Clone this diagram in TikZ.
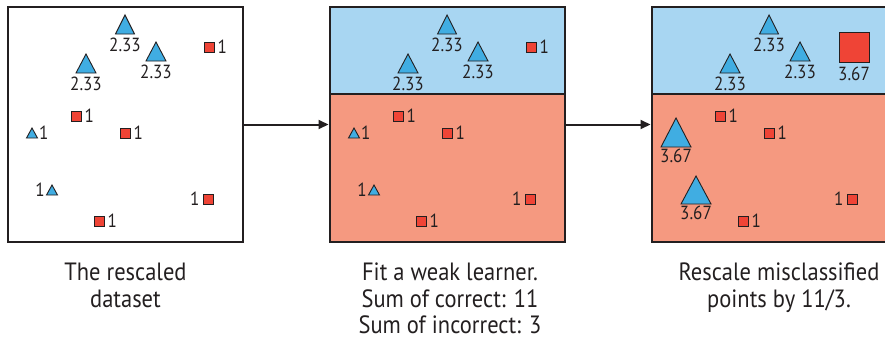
\documentclass[tikz,border=0pt]{standalone}
\usepackage{fontspec}
\setmainfont{PT Sans}
\newfontfamily\capfont[FakeStretch=0.9]{PT Sans}
\usetikzlibrary{arrows.meta}
\definecolor{triblue}{RGB}{64,173,226}
\definecolor{sqred}{RGB}{239,68,54}
\definecolor{bgblue}{RGB}{168,214,242}
\definecolor{bgsalmon}{RGB}{245,153,128}
\definecolor{ink}{RGB}{35,31,32}
\tikzset{
  panel/.style={draw=ink, line width=2pt, minimum width=235pt, minimum height=235pt, inner sep=0pt},
  region/.style={draw=ink, line width=2pt, inner sep=0pt, minimum width=235pt},
  tri/.style={draw=ink, fill=triblue, line width=0.9pt, line join=miter},
  sq/.style={draw=ink, fill=sqred, line width=0.9pt, minimum size=10pt, inner sep=0pt},
  bigsq/.style={sq, minimum size=30pt},
  num/.style={font=\capfont\fontsize{19}{19}\selectfont, inner sep=0pt, text=ink},
  captext/.style={font=\capfont\fontsize{25}{26.5}\selectfont, align=center, anchor=north, inner sep=0pt, text=ink},
  flow/.style={draw=ink, line width=2pt, -{Triangle[length=10pt,width=9pt]}}
}
\newcommand\mytri[5]{% name, cx, apex y, width, height
  \draw[tri] (#2,#3) -- ++(#4/2,#5) -- ++(-#4,0) -- cycle;
  \coordinate (#1) at (#2,#3+#5);}
\begin{document}
\begin{tikzpicture}[x=1pt,y=-1pt]
\useasboundingbox (0,0) rectangle (885,343);
% panels
\node[panel, fill=white] (p1) at (125.5,124.5) {};
\node[panel, fill=bgsalmon] (p2) at (447,124.5) {};
\node[region, fill=bgblue, minimum height=87pt] (p2top) at (447,50.5) {};
\node[panel, fill=bgsalmon] (p3) at (769,124.5) {};
\node[region, fill=bgblue, minimum height=87pt] (p3top) at (769,50.5) {};
\draw[flow] (p1.east) -- (p2.west);
\draw[flow] (p2.east) -- (p3.west);
% panels 1 and 2: identical point sets
\foreach \o/\n in {0/a,322/b}{
  \mytri{\n t1}{125+\o}{15}{19}{19}
  \node[num, anchor=north] at ([yshift=-4pt]\n t1) {2.33};
  \mytri{\n t2}{156+\o}{42}{20}{19}
  \node[num, anchor=north] at ([yshift=-4pt]\n t2) {2.33};
  \mytri{\n t3}{86+\o}{54}{20}{19}
  \node[num, anchor=north] at ([yshift=-4pt]\n t3) {2.33};
  \mytri{\n t4}{32+\o}{128}{11}{10}
  \node[num, anchor=west] at (39+\o,133) {1};
  \mytri{\n t5}{52+\o}{185}{11}{10}
  \node[num, anchor=east] at (45+\o,190) {1};
  \node[sq] (\n s1) at (209+\o,47) {};
  \node[num, anchor=west] at ([xshift=3pt]\n s1.east) {1};
  \node[sq] (\n s2) at (76+\o,116) {};
  \node[num, anchor=west] at ([xshift=3pt]\n s2.east) {1};
  \node[sq] (\n s3) at (125+\o,133) {};
  \node[num, anchor=west] at ([xshift=3pt]\n s3.east) {1};
  \node[sq] (\n s4) at (208+\o,199) {};
  \node[num, anchor=east] at ([xshift=-3pt]\n s4.west) {1};
  \node[sq] (\n s5) at (99+\o,221) {};
  \node[num, anchor=west] at ([xshift=3pt]\n s5.east) {1};
}
% panel 3
\mytri{ct1}{769}{15}{19}{19}
\node[num, anchor=north] at ([yshift=-4pt]ct1) {2.33};
\mytri{ct2}{800}{42}{20}{19}
\node[num, anchor=north] at ([yshift=-4pt]ct2) {2.33};
\mytri{ct3}{730}{54}{20}{19}
\node[num, anchor=north] at ([yshift=-4pt]ct3) {2.33};
\mytri{ct4}{676}{118}{30}{29}
\node[num, anchor=north] at ([yshift=-1.5pt]ct4) {3.67};
\mytri{ct5}{696}{176}{30}{28}
\node[num, anchor=north] at ([yshift=-1.5pt]ct5) {3.67};
\node[bigsq] (cs1) at (854,47) {};
\node[num, anchor=north] at ([yshift=-4pt]cs1.south) {3.67};
\node[sq] (cs2) at (720,116) {};
\node[num, anchor=west] at ([xshift=3pt]cs2.east) {1};
\node[sq] (cs3) at (769,133) {};
\node[num, anchor=west] at ([xshift=3pt]cs3.east) {1};
\node[sq] (cs4) at (852,199) {};
\node[num, anchor=east] at ([xshift=-3pt]cs4.west) {1};
\node[sq] (cs5) at (743,221) {};
\node[num, anchor=west] at ([xshift=3pt]cs5.east) {1};
% captions
\node[captext] (c1) at (125.5,263) {The rescaled\\dataset};
\node[captext] (c2) at (450,263) {Fit a weak learner.\\Sum of correct: 11\\Sum of incorrect: 3};
\node[captext] (c3) at (779,263) {Rescale misclassified\\points by 11/3.};
\end{tikzpicture}
\end{document}
